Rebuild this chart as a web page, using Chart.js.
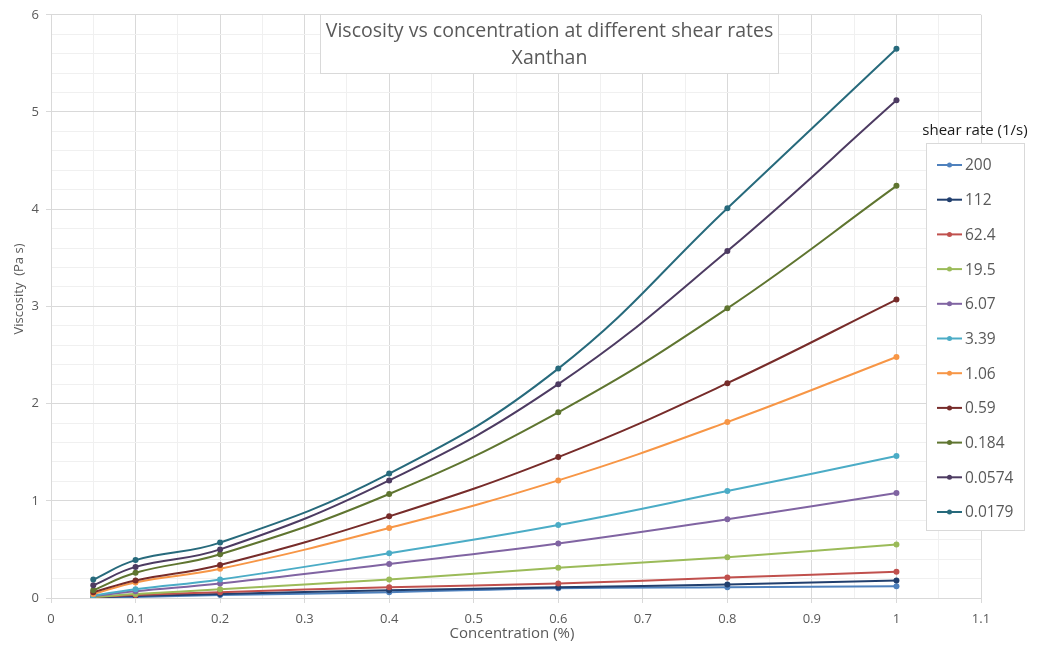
<!DOCTYPE html>
<html>
<head>
<meta charset="utf-8">
<script src="https://cdn.jsdelivr.net/npm/chart.js@4/dist/chart.umd.min.js"></script>
<style>
html,body{margin:0;padding:0;background:#fff;}
#c{display:block;}
</style>
</head>
<body>
<canvas id="c" width="1039" height="652"></canvas>
<script>
// ---- data ----
const concentration = [0.05, 0.1, 0.2, 0.4, 0.6, 0.8, 1];
const shearRates = ['200', '112', '62.4', '19.5', '6.07', '3.39', '1.06', '0.59', '0.184', '0.0574', '0.0179'];
const v200   = [0.003, 0.01, 0.03, 0.06, 0.10, 0.11, 0.12];
const v112   = [0.005, 0.02, 0.04, 0.08, 0.11, 0.14, 0.18];
const v62_4  = [0.008, 0.03, 0.06, 0.11, 0.15, 0.21, 0.27];
const v19_5  = [0.01, 0.04, 0.09, 0.19, 0.31, 0.42, 0.55];
const v6_07  = [0.02, 0.07, 0.15, 0.35, 0.56, 0.81, 1.08];
const v3_39  = [0.025, 0.09, 0.19, 0.46, 0.75, 1.10, 1.46];
const v1_06  = [0.04, 0.16, 0.30, 0.72, 1.21, 1.81, 2.48];
const v0_59  = [0.06, 0.18, 0.34, 0.84, 1.45, 2.21, 3.07];
const v0_184 = [0.08, 0.26, 0.45, 1.07, 1.91, 2.98, 4.24];
const v0_0574= [0.13, 0.32, 0.50, 1.21, 2.20, 3.57, 5.12];
const v0_0179= [0.19, 0.39, 0.57, 1.28, 2.36, 4.01, 5.65];
const seriesValues = [v200, v112, v62_4, v19_5, v6_07, v3_39, v1_06, v0_59, v0_184, v0_0574, v0_0179];
const xTickLabels = ['0','0.1','0.2','0.3','0.4','0.5','0.6','0.7','0.8','0.9','1','1.1'];
const yTickLabels = ['0','1','2','3','4','5','6'];
const titleLines = ['Viscosity vs concentration at different shear rates', 'Xanthan'];
const legendTitle = 'shear rate (1/s)';
const xTitle = 'Concentration (%)';
const yTitle = 'Viscosity  (Pa s)';

const colors = ['#4F81BD', '#213F6E', '#C0504D', '#9BBB59', '#8064A2', '#4BACC6', '#F79646', '#772C2A', '#5F7530', '#4D3B62', '#276A7C'];
const FONT = '"Open Sans", "DejaVu Sans", sans-serif';
const TXT = '#595959';

const datasets = shearRates.map((name, i) => ({
  label: name,
  data: concentration.map((x, j) => ({x: x, y: seriesValues[i][j]})),
  borderColor: colors[i],
  backgroundColor: colors[i],
  borderWidth: 2,
  pointRadius: 3,
  pointHoverRadius: 3,
  pointBorderWidth: 0,
  tension: 0.42,
  fill: false,
  order: shearRates.length - i
}));

function isMajor(v, step) {
  const r = v / step;
  return Math.abs(r - Math.round(r)) < 1e-6;
}

const overlayPlugin = {
  id: 'overlay',
  afterDraw(chart) {
    const ctx = chart.ctx;
    ctx.save();
    // axis titles
    ctx.fillStyle = TXT;
    ctx.textAlign = 'center';
    ctx.textBaseline = 'middle';
    ctx.font = '15px ' + FONT;
    ctx.fillText(xTitle, 512, 634);
    ctx.save();
    ctx.translate(19, 289);
    ctx.rotate(-Math.PI / 2);
    ctx.font = '13px ' + FONT;
    ctx.fillText(yTitle, 0, 0);
    ctx.restore();

    // title box
    const bx = 320.5, by = 14.5, bw = 458, bh = 59;
    ctx.fillStyle = '#fff';
    ctx.fillRect(bx, by, bw, bh);
    ctx.strokeStyle = '#D9D9D9';
    ctx.lineWidth = 1;
    ctx.strokeRect(bx, by, bw, bh);
    ctx.fillStyle = TXT;
    ctx.font = '19.5px ' + FONT;
    ctx.fillText(titleLines[0], bx + bw / 2, 31);
    ctx.fillText(titleLines[1], bx + bw / 2, 58);

    // legend
    ctx.font = '15px ' + FONT;
    ctx.fillStyle = '#1a1a1a';
    ctx.fillText(legendTitle, 975, 131);
    const lx = 926.5, ly = 143.5, lw = 98, lh = 387;
    ctx.fillStyle = '#fff';
    ctx.fillRect(lx, ly, lw, lh);
    ctx.strokeStyle = '#D9D9D9';
    ctx.strokeRect(lx, ly, lw, lh);
    ctx.textAlign = 'left';
    ctx.font = '15.5px ' + FONT;
    chart.data.datasets.forEach((ds, i) => {
      const y = 165 + i * 34.7;
      ctx.strokeStyle = ds.borderColor;
      ctx.lineWidth = 2;
      ctx.beginPath();
      ctx.moveTo(937, y);
      ctx.lineTo(962, y);
      ctx.stroke();
      ctx.fillStyle = ds.borderColor;
      ctx.beginPath();
      ctx.arc(949.5, y, 2.5, 0, Math.PI * 2);
      ctx.fill();
      ctx.fillStyle = TXT;
      ctx.fillText(ds.label, 965, y + 1);
    });
    ctx.restore();
  }
};

new Chart(document.getElementById('c'), {
  type: 'line',
  data: { datasets: datasets },
  plugins: [overlayPlugin],
  options: {
    responsive: false,
    animation: false,
    events: [],
    layout: { padding: { left: 0, top: 12, right: 58, bottom: 0 } },
    plugins: { legend: { display: false }, title: { display: false }, tooltip: { enabled: false } },
    scales: {
      x: {
        type: 'linear',
        min: 0, max: 1.1,
        afterFit(s) { s.height = 54; },
        afterBuildTicks(s) {
          const t = [];
          for (let i = 0; i <= 22; i++) t.push({ value: Math.round(i * 5) / 100 });
          s.ticks = t;
        },
        ticks: {
          autoSkip: false, maxRotation: 0,
          color: TXT, font: { family: FONT, size: 13 }, padding: 8,
          callback(v) {
            if (!isMajor(v, 0.1)) return '';
            return xTickLabels[Math.round(v * 10)];
          }
        },
        grid: {
          color(c) { return isMajor(c.tick.value, 0.1) ? '#D9D9D9' : '#F0F0F0'; },
          tickColor(c) { return isMajor(c.tick.value, 0.1) ? '#D9D9D9' : 'rgba(0,0,0,0)'; },
          tickLength: 5, lineWidth: 1
        },
        border: { color: '#D9D9D9' },
        title: { display: false }
      },
      y: {
        min: 0, max: 6,
        afterFit(s) { s.width = 51; },
        afterBuildTicks(s) {
          const t = [];
          for (let i = 0; i <= 30; i++) t.push({ value: Math.round(i * 2) / 10 });
          s.ticks = t;
        },
        ticks: {
          autoSkip: false,
          color: TXT, font: { family: FONT, size: 13 }, padding: 7,
          callback(v) {
            if (!isMajor(v, 1)) return '';
            return yTickLabels[Math.round(v)];
          }
        },
        grid: {
          color(c) { return isMajor(c.tick.value, 1) ? '#D9D9D9' : '#F0F0F0'; },
          tickColor(c) { return isMajor(c.tick.value, 1) ? '#D9D9D9' : 'rgba(0,0,0,0)'; },
          tickLength: 5, lineWidth: 1
        },
        border: { color: '#D9D9D9' },
        title: { display: false }
      }
    }
  }
});
</script>
</body>
</html>
